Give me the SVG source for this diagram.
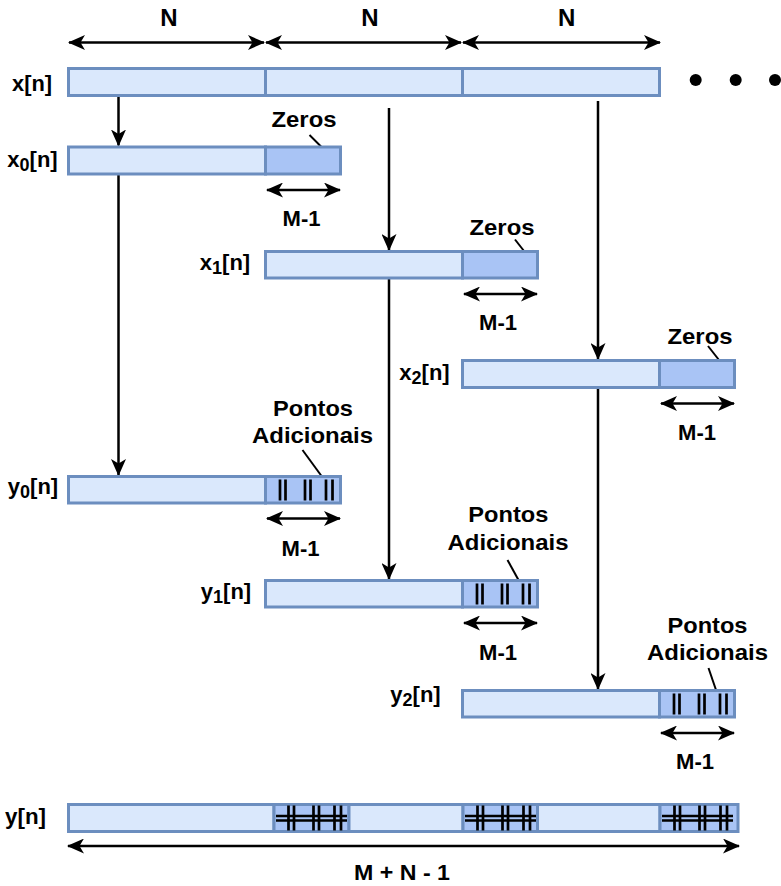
<svg xmlns="http://www.w3.org/2000/svg" xmlns:xlink="http://www.w3.org/1999/xlink" width="781" height="886" viewBox="0 0 781 886">
<style>
.lt{fill:#dae8fc;stroke:#6c8ebf;stroke-width:3}
.dk{fill:#a9c4f5;stroke:#6c8ebf;stroke-width:3}
.ln{stroke:#000;stroke-width:2.5;fill:none}
.ld{stroke:#000;stroke-width:2;fill:none}
.ha{stroke:#000;stroke-width:2.7;fill:none}
text{font-family:"Liberation Sans",Arial,Helvetica,sans-serif;font-weight:bold;fill:#000;text-anchor:middle;font-size:22px}
.t20{font-size:21.5px}
</style>
<defs>
<marker id="ah" markerUnits="userSpaceOnUse" markerWidth="17" markerHeight="15" refX="16" refY="7.5" orient="auto-start-reverse" viewBox="0 0 17 15">
<path d="M0,0 L17,7.5 L0,15 L4.5,7.5 Z" fill="#000"/>
</marker>
<g id="vh">
<path class="ha" d="M14.5,3V24M20,3V24M39.5,3V24M45,3V24M60.5,3V24M67,3V24"/>
</g>
<g id="xh">
<path class="ha" d="M14.5,1V26M20,1V26M39.5,1V26M45,1V26M60.5,1V26M67,1V26M2,11.5H73M2,16H73"/>
</g>
</defs>

<g id="connectors">
<path class="ln" d="M69,42.5H264" marker-start="url(#ah)" marker-end="url(#ah)"/>
<path class="ln" d="M266,42.5H461" marker-start="url(#ah)" marker-end="url(#ah)"/>
<path class="ln" d="M463,42.5H660" marker-start="url(#ah)" marker-end="url(#ah)"/>
<path class="ln" d="M118.5,96V145.5" marker-end="url(#ah)"/>
<path class="ln" d="M118.5,174V475" marker-end="url(#ah)"/>
<path class="ln" d="M389,108V250" marker-end="url(#ah)"/>
<path class="ln" d="M389,278V579" marker-end="url(#ah)"/>
<path class="ln" d="M598,101V359" marker-end="url(#ah)"/>
<path class="ln" d="M598,388V689" marker-end="url(#ah)"/>
<path class="ln" d="M267,190H340" marker-start="url(#ah)" marker-end="url(#ah)"/>
<path class="ln" d="M464,294H537" marker-start="url(#ah)" marker-end="url(#ah)"/>
<path class="ln" d="M661,403.5H734" marker-start="url(#ah)" marker-end="url(#ah)"/>
<path class="ln" d="M267,518.5H340" marker-start="url(#ah)" marker-end="url(#ah)"/>
<path class="ln" d="M464,623H537" marker-start="url(#ah)" marker-end="url(#ah)"/>
<path class="ln" d="M661,733H734" marker-start="url(#ah)" marker-end="url(#ah)"/>
<path class="ln" d="M68,846H739" marker-start="url(#ah)" marker-end="url(#ah)"/>
<path class="ld" d="M309.5,135L321.5,147"/>
<path class="ld" d="M515,239.5L524,251"/>
<path class="ld" d="M708,346L719,360"/>
<path class="ld" d="M302.5,450L321.5,476"/>
<path class="ld" d="M507.5,560L518.5,580"/>
<path class="ld" d="M708.5,668L716,690"/>
</g>

<g id="dimension-labels">
<text x="168.8" y="26" style="font-size:24px">N</text>
<text x="370" y="26" style="font-size:24px">N</text>
<text x="566.7" y="26" style="font-size:24px">N</text>
<text x="402" y="880" textLength="96" lengthAdjust="spacingAndGlyphs">M + N - 1</text>
</g>

<g id="x">
<rect class="lt" x="68.5" y="68.5" width="197" height="27"/>
<rect class="lt" x="265.5" y="68.5" width="197" height="27"/>
<rect class="lt" x="462.5" y="68.5" width="197" height="27"/>
<text x="32" y="91" textLength="40" lengthAdjust="spacingAndGlyphs">x[n]</text>
<circle cx="695.7" cy="80" r="6"/>
<circle cx="735.7" cy="80" r="6"/>
<circle cx="775" cy="80" r="6"/>
</g>

<g id="x0">
<rect class="lt" x="68.5" y="147" width="197" height="27"/>
<rect class="dk" x="265.5" y="147" width="75" height="27"/>
<text x="32.5" y="167">x<tspan dy="4" style="font-size:18px">0</tspan><tspan dy="-4">[n]</tspan></text>
<text class="t20" x="304" y="127" textLength="65" lengthAdjust="spacingAndGlyphs">Zeros</text>
<text class="t20" x="301.5" y="226" textLength="38" lengthAdjust="spacingAndGlyphs">M-1</text>
</g>

<g id="x1">
<rect class="lt" x="265.5" y="251.5" width="197" height="26.5"/>
<rect class="dk" x="462.5" y="251.5" width="75" height="26.5"/>
<text x="225" y="270">x<tspan dy="4" style="font-size:18px">1</tspan><tspan dy="-4">[n]</tspan></text>
<text class="t20" x="502" y="235" textLength="65" lengthAdjust="spacingAndGlyphs">Zeros</text>
<text class="t20" x="498" y="330" textLength="38" lengthAdjust="spacingAndGlyphs">M-1</text>
</g>

<g id="x2">
<rect class="lt" x="462.5" y="360.5" width="197" height="27"/>
<rect class="dk" x="659.5" y="360.5" width="75" height="27"/>
<text x="424.5" y="380">x<tspan dy="4" style="font-size:18px">2</tspan><tspan dy="-4">[n]</tspan></text>
<text class="t20" x="700" y="344" textLength="65" lengthAdjust="spacingAndGlyphs">Zeros</text>
<text class="t20" x="697" y="439.5" textLength="38" lengthAdjust="spacingAndGlyphs">M-1</text>
</g>

<g id="y0">
<rect class="lt" x="68.5" y="476.5" width="197" height="26.5"/>
<rect class="dk" x="265.5" y="476.5" width="75" height="26.5"/>
<use xlink:href="#vh" x="265.5" y="476.5"/>
<text x="33" y="494">y<tspan dy="4" style="font-size:18px">0</tspan><tspan dy="-4">[n]</tspan></text>
<text class="t20" x="313" y="416" textLength="80" lengthAdjust="spacingAndGlyphs">Pontos</text>
<text class="t20" x="312.5" y="443" textLength="121" lengthAdjust="spacingAndGlyphs">Adicionais</text>
<text class="t20" x="300.5" y="555.5" textLength="38" lengthAdjust="spacingAndGlyphs">M-1</text>
</g>

<g id="y1">
<rect class="lt" x="265.5" y="580.5" width="197" height="26.5"/>
<rect class="dk" x="462.5" y="580.5" width="75" height="26.5"/>
<use xlink:href="#vh" x="462.5" y="580.5"/>
<text x="226" y="599">y<tspan dy="4" style="font-size:18px">1</tspan><tspan dy="-4">[n]</tspan></text>
<text class="t20" x="508.3" y="521.7" textLength="80" lengthAdjust="spacingAndGlyphs">Pontos</text>
<text class="t20" x="508" y="550" textLength="121" lengthAdjust="spacingAndGlyphs">Adicionais</text>
<text class="t20" x="498" y="659.5" textLength="38" lengthAdjust="spacingAndGlyphs">M-1</text>
</g>

<g id="y2">
<rect class="lt" x="462.5" y="690.5" width="197" height="26.5"/>
<rect class="dk" x="659.5" y="690.5" width="75" height="26.5"/>
<use xlink:href="#vh" x="659.5" y="690.5"/>
<text x="415.5" y="702">y<tspan dy="4" style="font-size:18px">2</tspan><tspan dy="-4">[n]</tspan></text>
<text class="t20" x="707.5" y="632.7" textLength="80" lengthAdjust="spacingAndGlyphs">Pontos</text>
<text class="t20" x="707.5" y="660" textLength="121" lengthAdjust="spacingAndGlyphs">Adicionais</text>
<text class="t20" x="695" y="769" textLength="38" lengthAdjust="spacingAndGlyphs">M-1</text>
</g>

<g id="y">
<rect class="lt" x="68.5" y="804.5" width="205.5" height="27"/>
<rect class="dk" x="274" y="804.5" width="75" height="27"/>
<rect class="lt" x="349" y="804.5" width="114" height="27"/>
<rect class="dk" x="463" y="804.5" width="74.5" height="27"/>
<rect class="lt" x="537.5" y="804.5" width="122.5" height="27"/>
<rect class="dk" x="660" y="804.5" width="78" height="27"/>
<use xlink:href="#xh" x="274" y="804.5"/>
<use xlink:href="#xh" x="463" y="804.5"/>
<use xlink:href="#xh" x="660" y="804.5"/>
<text x="25.5" y="824" textLength="41" lengthAdjust="spacingAndGlyphs">y[n]</text>
</g>
</svg>
